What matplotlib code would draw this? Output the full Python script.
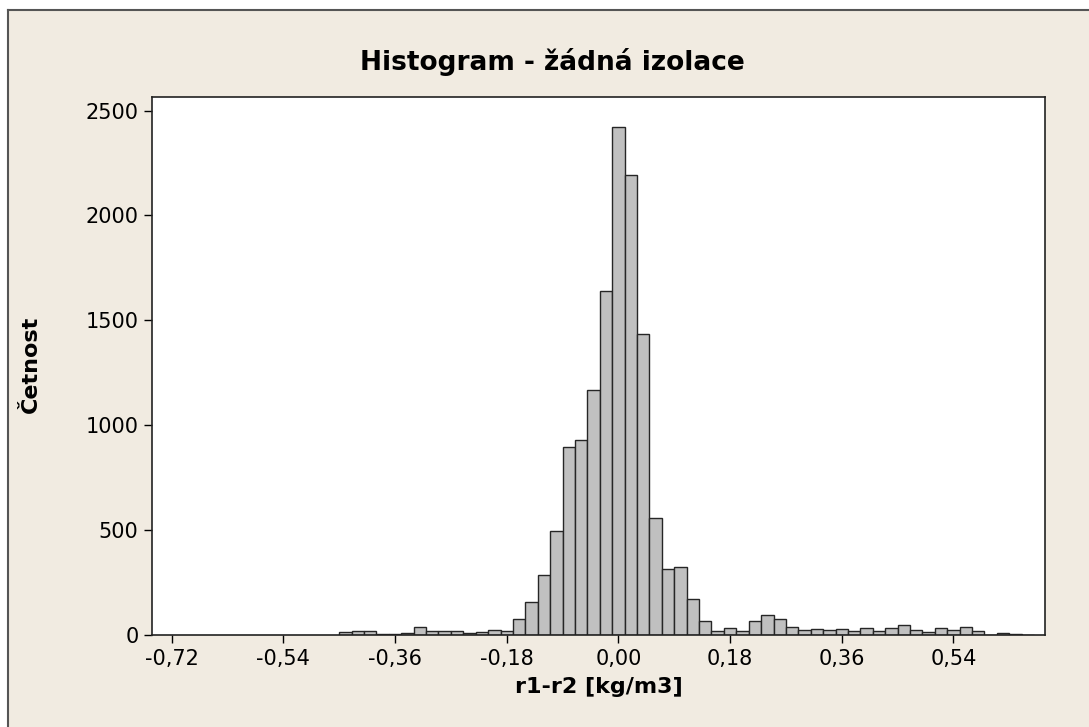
'''
Histogram - žádná izolace (Minitab style)
'''

import matplotlib
matplotlib.use('Agg')
import matplotlib.pyplot as plt
from matplotlib.patches import Rectangle
from matplotlib.lines import Line2D
from matplotlib.ticker import FuncFormatter

plt.rcParams['font.family'] = ['DejaVu Sans']

# středy tříd a četnosti
bin_centers = [-0.44, -0.42, -0.40, -0.38, -0.36, -0.34, -0.32, -0.30, -0.28, -0.26,
               -0.24, -0.22, -0.20, -0.18, -0.16, -0.14, -0.12, -0.10, -0.08, -0.06,
               -0.04, -0.02, 0.00, 0.02, 0.04, 0.06, 0.08, 0.10, 0.12, 0.14,
               0.16, 0.18, 0.20, 0.22, 0.24, 0.26, 0.28, 0.30, 0.32, 0.34,
               0.36, 0.38, 0.40, 0.42, 0.44, 0.46, 0.48, 0.50, 0.52, 0.54,
               0.56, 0.58, 0.60, 0.62, 0.64, 0.66]
counts = [13, 17, 19, 6, 6, 8, 40, 19, 20, 17,
          8, 14, 25, 19, 78, 157, 286, 496, 895, 929,
          1168, 1638, 2420, 2194, 1435, 556, 315, 322, 171, 68,
          20, 33, 17, 68, 94, 78, 40, 25, 27, 24,
          30, 20, 35, 20, 35, 49, 22, 16, 35, 25,
          37, 17, 2, 8, 3, 2]
bin_width = 0.02

x_ticks = [-0.72, -0.54, -0.36, -0.18, 0.00, 0.18, 0.36, 0.54]
y_ticks = [0, 500, 1000, 1500, 2000, 2500]

title = 'Histogram - žádná izolace'
xlabel = 'r1-r2 [kg/m3]'
ylabel = 'Četnost'


def main():
    W, H = 1089, 727
    fig = plt.figure(figsize=(W / 100, H / 100), dpi=100, facecolor='#F1EBE1')

    # bílý okraj vlevo a nahoře, pak šedý rámeček
    fig.patches.append(Rectangle((0, 1 - 10 / H), 1, 10 / H, transform=fig.transFigure,
                                 facecolor='white', edgecolor='none', zorder=-5))
    fig.patches.append(Rectangle((0, 0), 8 / W, 1, transform=fig.transFigure,
                                 facecolor='white', edgecolor='none', zorder=-5))
    fig.lines.append(Line2D([8 / W, 1], [1 - 10 / H, 1 - 10 / H], transform=fig.transFigure,
                            color='#555555', linewidth=1.5, zorder=-4))
    fig.lines.append(Line2D([8 / W, 8 / W], [0, 1 - 10 / H], transform=fig.transFigure,
                            color='#555555', linewidth=1.5, zorder=-4))

    left, right = 152.3 / W, 1045 / W
    bottom, top = 1 - 635 / H, 1 - 96.7 / H
    ax = fig.add_axes([left, bottom, right - left, top - bottom])
    ax.set_facecolor('white')

    ax.bar(bin_centers, counts, width=bin_width, color='#C0C0C0',
           edgecolor='#262626', linewidth=1.0)

    ax.set_xlim(-0.7513, 0.6876)
    ax.set_ylim(0, 2566)

    ax.set_xticks(x_ticks)
    ax.set_yticks(y_ticks)
    ax.xaxis.set_major_formatter(FuncFormatter(lambda v, p: ('%.2f' % v).replace('.', ',')))
    ax.tick_params(direction='out', length=6, width=1, labelsize=15, pad=4)

    for s in ax.spines.values():
        s.set_linewidth(1.2)
        s.set_color('#222222')

    fig.text(552 / W, 1 - 62 / H, title, ha='center', va='center',
             fontsize=19, fontweight='bold')
    ax.set_xlabel(xlabel, fontsize=16, fontweight='bold', labelpad=6)
    fig.text(31 / W, 1 - 364 / H, ylabel, ha='center', va='center', rotation=90,
             fontsize=16, fontweight='bold')

    plt.savefig('out.png', dpi=100, facecolor=fig.get_facecolor())


if __name__ == '__main__':
    main()
